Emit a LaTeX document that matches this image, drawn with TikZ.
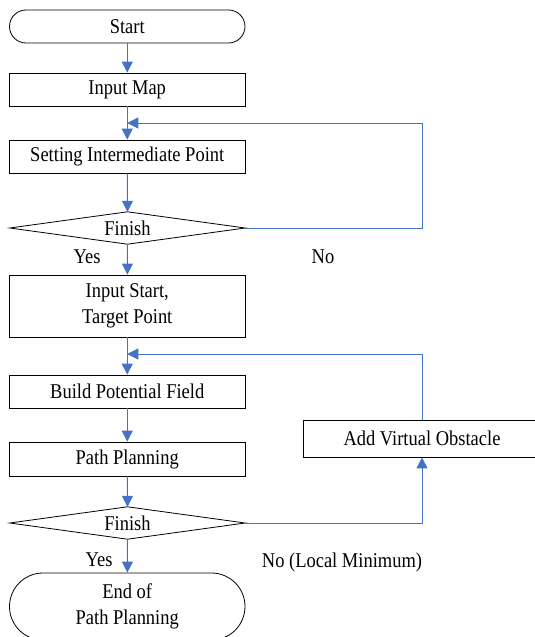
\documentclass[tikz,border=0pt]{standalone}
\usepackage{fontspec}
\setmainfont{Liberation Serif}[FakeStretch=0.88]
\usetikzlibrary{arrows.meta}
\definecolor{flowblue}{RGB}{68,114,196}
\begin{document}
\begin{tikzpicture}[x=1pt,y=-1pt,
  font=\fontsize{21}{26}\selectfont,
  box/.style={draw=black, line width=0.8pt, minimum width=235.5pt, inner sep=0pt, align=center},
  decision/.style={minimum width=235pt, minimum height=32pt, inner sep=0pt},
  outline/.style={draw=black, line width=0.8pt},
  flow/.style={draw=flowblue, line width=1pt, -{Triangle[width=11pt,length=11pt]}},
  lbl/.style={inner sep=0pt}]
\useasboundingbox (0,0) rectangle (535,637);

% main column
\node[box, rounded corners=16.5pt, minimum height=33pt] (start) at (127.25,26.5) {Start};
\node[box, minimum height=33pt] (map) at (127.25,89.5) {Input Map};
\node[box, minimum height=33pt] (inter) at (127.25,156.5) {Setting Intermediate Point};
\node[decision] (fin1) at (127.5,228) {Finish};
\draw[outline] (fin1.west) -- (fin1.north) -- (fin1.east) -- (fin1.south) -- cycle;
\node[box, minimum height=62pt] (target) at (127.25,306) {Input Start,\\Target Point};
\node[box, minimum height=33pt] (field) at (127.25,391.5) {Build Potential Field};
\node[box, minimum height=34pt] (plan) at (127.25,459) {Path Planning};
\node[decision] (fin2) at (127.5,523) {Finish};
\draw[outline] (fin2.west) -- (fin2.north) -- (fin2.east) -- (fin2.south) -- cycle;
\node[box, rounded corners=33.5pt, minimum height=67pt] (end) at (127.25,606.5) {End of\\Path Planning};

% side box
\node[box, minimum width=238pt, minimum height=37pt] (virt) at (422,438.5) {Add Virtual Obstacle};

% labels
\node[lbl] (yes1) at (87,257) {Yes};
\node[lbl] (no1) at (323,257) {No};
\node[lbl] (yes2) at (99,560) {Yes};
\node[lbl] (no2) at (342,562) {No (Local Minimum)};

% straight flow
\draw[flow] (start) -- (map);
\draw[flow] (map) -- (inter);
\draw[flow] (inter) -- (fin1.north);
\draw[flow] (fin1.south) -- (target);
\draw[flow] (target) -- (field);
\draw[flow] (field) -- (plan);
\draw[flow] (plan) -- (fin2.north);
\draw[flow] (fin2.south) -- (end);

% feedback loops
\coordinate (loopA) at (422,123);
\coordinate (mergeA) at (127.25,123);
\draw[flow] (fin1.east) -| (loopA) -- (mergeA);
\draw[flow] (fin2.east) -| (virt.south);
\coordinate (mergeB) at (127.25,354);
\draw[flow] (virt.north) |- (mergeB);
\end{tikzpicture}
\end{document}
